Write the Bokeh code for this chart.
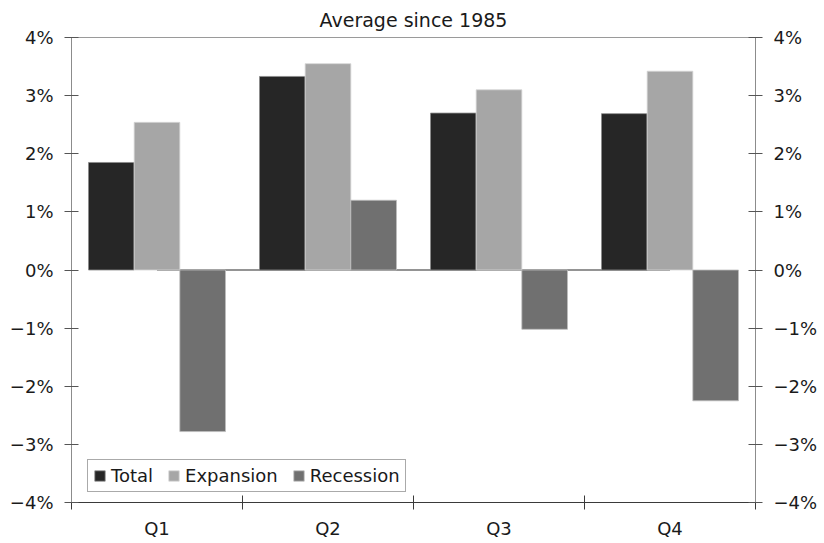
import numpy as np
from bokeh.plotting import figure
from bokeh.models import (Range1d, LinearAxis, FixedTicker, Legend, LegendItem,
                          ColumnDataSource)
from bokeh.embed import file_html
from bokeh.resources import INLINE

# ---- data ----
quarters = ["Q1", "Q2", "Q3", "Q4"]
total = [1.85, 3.33, 2.70, 2.69]
expansion = [2.54, 3.55, 3.10, 3.42]
recession = [-2.78, 1.20, -1.02, -2.25]
y_ticks = [-4, -3, -2, -1, 0, 1, 2, 3, 4]
title_text = "Average since 1985"

FONT = "DejaVu Sans"
C_TOTAL = "#262626"
C_EXP = "#a6a6a6"
C_REC = "#707070"

centers = np.arange(len(quarters)) + 0.5
bw = 0.267

p = figure(width=822, height=541, output_backend="svg", toolbar_location=None,
           x_range=Range1d(0, len(quarters)), y_range=Range1d(-4, 4),
           min_border_left=71, min_border_right=67, min_border_top=37,
           min_border_bottom=39, x_axis_type=None, y_axis_type=None,
           title=title_text)
p.title.align = "center"
p.title.text_font = FONT
p.title.text_font_size = "19px"
p.title.text_font_style = "normal"
p.title.text_color = "#1a1a1a"
p.title.standoff = 13
p.grid.visible = False
p.outline_line_color = "#9a9a9a"
p.outline_line_width = 1
p.background_fill_color = "white"
p.border_fill_color = "white"

# zero line from first to last category centre
p.line(x=[centers[0], centers[-1]], y=[0, 0], line_color="#707070", line_width=1.5)

src = ColumnDataSource(dict(xt=centers - bw, xe=centers, xr=centers + bw,
                            total=total, expansion=expansion, recession=recession))
r_t = p.vbar(x="xt", top="total", bottom=0, width=bw, source=src,
             fill_color=C_TOTAL, line_color="#8a8a8a", line_width=0.8)
r_e = p.vbar(x="xe", top="expansion", bottom=0, width=bw, source=src,
             fill_color=C_EXP, line_color="#d6d6d6", line_width=0.8)
r_r = p.vbar(x="xr", top="recession", bottom=0, width=bw, source=src,
             fill_color=C_REC, line_color="#bdbdbd", line_width=0.8)

# ---- axes ----
pct_labels = {float(v): (("\u2212" if v < 0 else "") + f"{abs(v)}%") for v in y_ticks}

def y_axis():
    ax = LinearAxis(ticker=FixedTicker(ticks=y_ticks, minor_ticks=[]))
    ax.major_label_overrides = pct_labels
    ax.major_label_text_font = FONT
    ax.major_label_text_font_size = "18px"
    ax.major_label_text_color = "#1a1a1a"
    ax.axis_line_color = "#8c8c8c"
    ax.major_tick_line_color = "#555555"
    ax.major_tick_in = 7
    ax.major_tick_out = 7
    ax.minor_tick_line_color = None
    ax.major_label_standoff = 11
    return ax

p.add_layout(y_axis(), "left")
p.add_layout(y_axis(), "right")

xax = LinearAxis(ticker=FixedTicker(ticks=list(centers),
                                    minor_ticks=list(np.arange(len(quarters) + 1))))
xax.major_label_overrides = {float(c): q for c, q in zip(centers, quarters)}
xax.major_label_text_font = FONT
xax.major_label_text_font_size = "18px"
xax.major_label_text_color = "#1a1a1a"
xax.axis_line_color = "#3a3a3a"
xax.major_tick_line_color = None
xax.major_tick_in = 0
xax.major_tick_out = 0
xax.minor_tick_line_color = "#3a3a3a"
xax.minor_tick_in = 7
xax.minor_tick_out = 7
xax.major_label_standoff = 8
p.add_layout(xax, "below")

legend = Legend(items=[LegendItem(label="Total", renderers=[r_t]),
                       LegendItem(label="Expansion", renderers=[r_e]),
                       LegendItem(label="Recession", renderers=[r_r])],
                location=(16, 10), orientation="horizontal",
                border_line_color="#555555", border_line_width=1,
                background_fill_color="white", background_fill_alpha=1,
                label_text_font=FONT, label_text_font_size="18px",
                label_text_color="#1a1a1a",
                glyph_width=13, glyph_height=13, label_standoff=5,
                spacing=14, padding=5, margin=0, label_height=18)
p.add_layout(legend, "center")

open("out.html", "w").write(file_html(p, INLINE))
